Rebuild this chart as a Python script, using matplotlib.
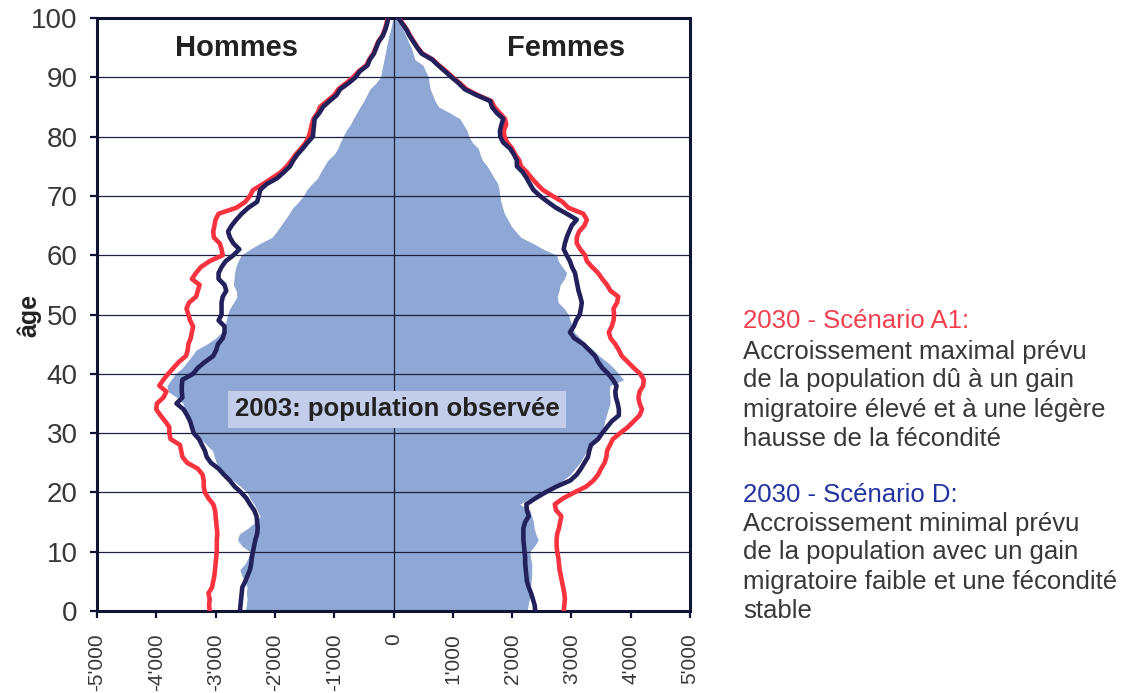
import matplotlib.pyplot as plt
import numpy as np

plt.rcParams['font.family'] = ['Liberation Sans', 'DejaVu Sans']

# ages 0..100
ages = list(range(0, 101))

# population observee 2003 (hommes / femmes)
obs_hommes = [2500, 2480, 2470, 2480, 2470, 2500, 2560, 2590, 2500, 2450,
              2420, 2560, 2630, 2600, 2450, 2330, 2250, 2300, 2350, 2420,
              2470, 2580, 2700, 2880, 2950, 2990, 3020, 3050, 3150, 3250,
              3320, 3420, 3460, 3490, 3510, 3550, 3650, 3800, 3820, 3750,
              3680, 3560, 3480, 3400, 3330, 3150, 3000, 2900, 2850, 2820,
              2800, 2760, 2700, 2640, 2650, 2700, 2690, 2680, 2660, 2620,
              2570, 2420, 2250, 2050, 1970, 1900, 1830, 1760, 1700, 1600,
              1520, 1465, 1380, 1280, 1230, 1170, 1110, 1000, 940, 900,
              850, 800, 730, 680, 620, 565, 500, 450, 400, 300,
              220, 200, 180, 160, 140, 120, 100, 80, 50, 30, 10]
obs_femmes = [2250, 2270, 2290, 2300, 2310, 2320, 2330, 2330, 2330, 2310,
              2300, 2380, 2440, 2400, 2370, 2360, 2330, 2300, 2130, 2300,
              2470, 2700, 2850, 2980, 3060, 3145, 3200, 3260, 3330, 3400,
              3470, 3540, 3560, 3590, 3620, 3650, 3650, 3640, 3650, 3880,
              3800, 3710, 3600, 3470, 3370, 3250, 3150, 3050, 3010, 2980,
              2950, 2880, 2780, 2760, 2790, 2810, 2880, 2920, 2850, 2780,
              2750, 2530, 2350, 2150, 2060, 1980, 1930, 1870, 1840, 1810,
              1795, 1780, 1760, 1700, 1640, 1580, 1500, 1460, 1430, 1330,
              1270, 1240, 1180, 1120, 950, 760, 700, 660, 620, 600,
              590, 540, 500, 360, 330, 300, 250, 210, 165, 100, 25]

# 2030 - scenario A1
a1_hommes = [3100, 3110, 3100, 3120, 3060, 3040, 3020, 3010, 3000, 2990,
             2980, 2980, 2980, 2970, 2980, 2990, 3000, 3010, 3040, 3120,
             3180, 3200, 3200, 3220, 3300, 3480, 3560, 3580, 3600, 3760,
             3780, 3780, 3850, 3930, 4000, 3990, 3880, 3830, 3950, 3880,
             3800, 3710, 3620, 3500, 3470, 3460, 3420, 3400, 3380, 3430,
             3460, 3490, 3450, 3330, 3300, 3270, 3400, 3330, 3250, 3100,
             2880, 2900, 2930, 3030, 3040, 3020, 3000, 2950, 2650, 2500,
             2420, 2370, 2200, 2050, 1900, 1800, 1720, 1650, 1560, 1480,
             1430, 1400, 1380, 1350, 1280, 1240, 1120, 1000, 930, 800,
             680, 590, 460, 410, 340, 300, 260, 190, 150, 120, 100]
a1_femmes = [2870, 2880, 2890, 2880, 2860, 2840, 2820, 2800, 2790, 2780,
             2760, 2750, 2750, 2760, 2790, 2810, 2830, 2740, 2720, 2860,
             3050, 3250, 3370, 3450, 3500, 3560, 3590, 3600, 3650, 3700,
             3820, 3950, 4050, 4150, 4190, 4150, 4130, 4150, 4210, 4220,
             4160, 4050, 3950, 3850, 3800, 3740, 3660, 3630, 3680, 3710,
             3720, 3710, 3770, 3790, 3660, 3600, 3520, 3450, 3350, 3260,
             3230, 3150, 3090, 3090, 3130, 3220, 3260, 3200, 2950, 2850,
             2680, 2520, 2420, 2330, 2250, 2150, 2120, 2050, 2000, 1920,
             1870, 1860, 1900, 1880, 1790, 1700, 1650, 1420, 1230, 1120,
             1000, 890, 770, 660, 490, 410, 345, 280, 230, 160, 90]

# 2030 - scenario D
d_hommes = [2590, 2580, 2570, 2560, 2550, 2500, 2460, 2420, 2400, 2390,
            2370, 2350, 2330, 2300, 2290, 2300, 2310, 2350, 2420, 2480,
            2570, 2680, 2760, 2860, 2950, 3080, 3150, 3180, 3230, 3280,
            3370, 3400, 3430, 3480, 3540, 3660, 3560, 3570, 3570, 3560,
            3380, 3300, 3180, 3040, 2990, 2960, 2880, 2850, 2850, 2950,
            2900, 2900, 2900, 2880, 2820, 2850, 2950, 2950, 2900, 2830,
            2700, 2600, 2700, 2760, 2790, 2730, 2650, 2560, 2450, 2300,
            2270, 2250, 2140, 1960, 1850, 1745, 1690, 1620, 1530, 1450,
            1360, 1350, 1340, 1330, 1250, 1190, 1080, 960, 900, 760,
            640, 570, 440, 400, 330, 290, 250, 180, 140, 110, 90]
d_femmes = [2390, 2380, 2350, 2320, 2280, 2250, 2240, 2230, 2220, 2220,
            2210, 2200, 2190, 2190, 2190, 2220, 2280, 2250, 2240, 2390,
            2560, 2750, 2980, 3090, 3160, 3220, 3280, 3300, 3330, 3450,
            3520, 3600, 3680, 3800, 3800, 3780, 3750, 3740, 3760, 3700,
            3620, 3520, 3450, 3400, 3300, 3200, 3050, 2975, 3040, 3080,
            3140, 3160, 3175, 3150, 3120, 3100, 3080, 3060, 3010, 2975,
            2920, 2870, 2890, 2920, 2960, 3005, 3090, 2920, 2740, 2600,
            2470, 2360, 2300, 2245, 2180, 2080, 2080, 2030, 1965, 1850,
            1800, 1795, 1820, 1850, 1740, 1660, 1630, 1400, 1200, 1100,
            980, 870, 755, 650, 475, 400, 335, 270, 220, 150, 80]

x_ticks = [-5000, -4000, -3000, -2000, -1000, 0, 1000, 2000, 3000, 4000, 5000]
x_tick_labels = ["-5'000", "-4'000", "-3'000", "-2'000", "-1'000", "0",
                 "1'000", "2'000", "3'000", "4'000", "5'000"]
y_ticks = [0, 10, 20, 30, 40, 50, 60, 70, 80, 90, 100]

c_fill = '#8ea7d4'
c_red = '#f9323f'
c_navy = '#23215c'
c_axis = '#0f1433'
c_text = '#383838'

W, H = 1124, 693
fig = plt.figure(figsize=(11.24, 6.93), dpi=100)
ax = fig.add_axes([0.0863, 0.1183, 0.5276, 0.8557])

age = np.array(ages)
ax.fill_betweenx(age, -np.array(obs_hommes), np.array(obs_femmes),
                 color=c_fill, linewidth=0, zorder=1)

lw = 3.3
ax.plot(-np.array(a1_hommes), age, color=c_red, lw=lw, zorder=3)
ax.plot(a1_femmes, age, color=c_red, lw=lw, zorder=3)
ax.plot(-np.array(d_hommes), age, color=c_navy, lw=lw, zorder=4)
ax.plot(d_femmes, age, color=c_navy, lw=lw, zorder=4)

ax.set_xlim(-5000, 5000)
ax.set_ylim(0, 100)
ax.set_xticks(x_ticks)
ax.set_xticklabels(x_tick_labels, rotation=90, fontsize=15, color=c_text,
                   va='top')
ax.set_yticks(y_ticks)
ax.set_yticklabels([str(v) for v in y_ticks], fontsize=20, color=c_text)

ax.yaxis.grid(True, color='#1c2140', lw=0.9, zorder=2)
ax.axvline(0, color='#1c2140', lw=0.9, zorder=2)

for sp in ax.spines.values():
    sp.set_color(c_axis)
    sp.set_linewidth(2.2)
ax.tick_params(axis='both', direction='out', length=5, width=1.6,
               color=c_axis)
ax.tick_params(axis='y', pad=9)
ax.tick_params(axis='x', pad=11)

# titre de l'axe y, place a la main (il chevauche la zone des etiquettes)
fig.text(29 / W, 1 - 315 / H, 'âge', fontsize=18, fontweight='bold',
         color='#222222', rotation=90, ha='center', va='center')

ax.text(-2640, 94.9, 'Hommes', fontsize=21, fontweight='bold',
        color='#222222', ha='center', va='center')
ax.text(2910, 94.9, 'Femmes', fontsize=21, fontweight='bold',
        color='#222222', ha='center', va='center')
ax.text(60, 34.0, '2003: population observée', fontsize=18.5,
        fontweight='bold', color='#222222', ha='center', va='center',
        zorder=5,
        bbox=dict(boxstyle='square,pad=0.25', facecolor='#c3cdea',
                  edgecolor='none'))

# texte a droite
x0 = 743 / W
lignes = [
    (318, '2030 - Scénario A1:', '#f2404f'),
    (349, 'Accroissement maximal prévu', c_text),
    (378, 'de la population dû à un gain', c_text),
    (407, 'migratoire élevé et à une légère', c_text),
    (436, 'hausse de la fécondité', c_text),
    (492, '2030 - Scénario D:', '#2232a0'),
    (521, 'Accroissement minimal prévu', c_text),
    (550, 'de la population avec un gain', c_text),
    (579, 'migratoire faible et une fécondité', c_text),
    (608, 'stable', c_text),
]
for py, txt, col in lignes:
    fig.text(x0, 1 - py / H, txt, fontsize=18.5, color=col,
             ha='left', va='center_baseline')

fig.savefig('out.png', dpi=100)
